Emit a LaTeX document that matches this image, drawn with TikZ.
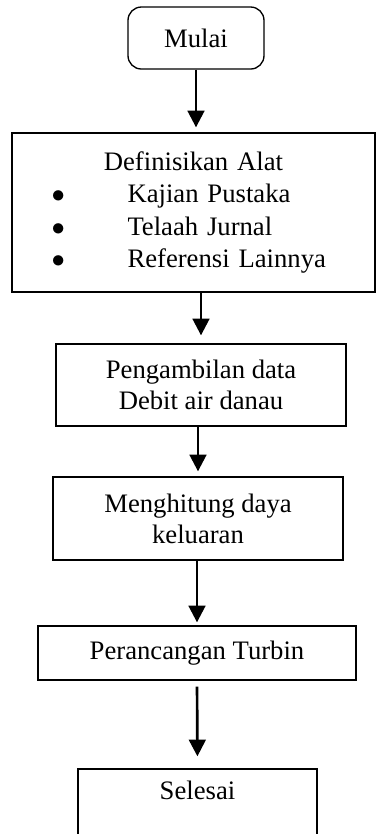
\documentclass[tikz,border=0pt]{standalone}
\usepackage{fontspec}
\setmainfont{Liberation Serif}
\usepackage{tikz}
\usetikzlibrary{arrows.meta}

\newlength{\pxd}
\setlength{\pxd}{0.45pt}
\newcommand{\butir}{\hspace*{28\pxd}\makebox[76\pxd][l]{$\bullet$}}

\tikzset{
  proses/.style={draw, line width=0.6pt, align=center, inner sep=0pt,
    font=\fontsize{12pt}{14pt}\selectfont},
  panah/.style={-{Triangle[width=7.5pt,length=7.5pt]}, line width=1.2pt},
}

\begin{document}
\begin{tikzpicture}[x=\pxd, y=-\pxd]
        \clip (0,0) rectangle (376,834);

        % langkah-langkah, dari atas ke bawah
        \node[proses, rounded corners=6pt, minimum width=136*\pxd, minimum height=62*\pxd]
          (mulai) at (196,38) {Mulai};
        \node[proses, minimum width=363*\pxd, minimum height=159*\pxd, text width=340*\pxd,
          align=left, font=\fontsize{12pt}{14.5pt}\selectfont]
          (definisi) at (193.5,212.5) {%
            \makebox[\linewidth][c]{Definisikan Alat}\\
            \butir Kajian Pustaka\\
            \butir Telaah Jurnal\\
            \butir Referensi Lainnya};
        \node[proses, minimum width=290*\pxd, minimum height=82*\pxd]
          (ambil) at (201,385) {Pengambilan data\\Debit air danau};
        \node[proses, minimum width=290*\pxd, minimum height=83*\pxd]
          (hitung) at (198,518.5) {Menghitung daya\\keluaran};
        \node[proses, minimum width=318*\pxd, minimum height=54*\pxd]
          (rancang) at (197,653) {Perancangan Turbin};
        \node[proses, minimum width=239*\pxd, minimum height=82*\pxd]
          (selesai) at (197.5,810) {Selesai\\\strut};

        % panah
        \draw[panah, shorten >=5*\pxd] (mulai.south) -- (mulai.south |- definisi.north);
        \draw[panah, shorten >=8*\pxd] (ambil.north |- definisi.south) -- (ambil.north);
        \draw[panah, shorten >=5*\pxd] (hitung.north |- ambil.south) -- (hitung.north);
        \draw[panah, shorten >=3*\pxd] (rancang.north |- hitung.south) -- (rancang.north);
        \draw[panah, shorten <=6*\pxd, shorten >=12*\pxd] (rancang.south) -- (selesai.north);
      \end{tikzpicture}
\end{document}
